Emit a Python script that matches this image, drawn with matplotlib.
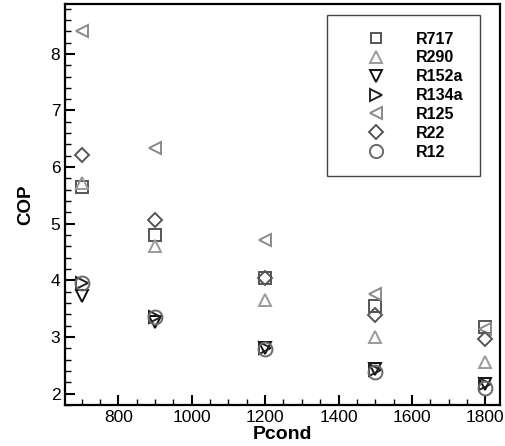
import numpy as np
import matplotlib.pyplot as plt
from matplotlib.ticker import MultipleLocator

plt.rcParams['font.family'] = ['Liberation Sans', 'DejaVu Sans']

pcond = [700, 900, 1200, 1500, 1800]
r717 = [5.65, 4.81, 4.05, 3.55, 3.17]
r290 = [5.72, 4.60, 3.65, 3.00, 2.56]
r152a = [3.72, 3.27, 2.80, 2.43, 2.17]
r134a = [3.95, 3.36, 2.80, 2.42, 2.17]
r125 = [8.40, 6.34, 4.71, 3.76, 3.15]
r22 = [6.21, 5.06, 4.04, 3.39, 2.97]
r12 = [3.95, 3.36, 2.78, 2.39, 2.10]

series = [
    ("R717", r717, 's', '#555555'),
    ("R290", r290, '^', '#9a9a9a'),
    ("R152a", r152a, 'v', '#111111'),
    ("R134a", r134a, '>', '#222222'),
    ("R125", r125, '<', '#8a8a8a'),
    ("R22", r22, 'D', '#555555'),
    ("R12", r12, 'o', '#6a6a6a'),
]
tamanos = {'s': 8, '^': 8.5, 'v': 8.5, '>': 8.5, '<': 8.5, 'D': 7.5, 'o': 10}

fig = plt.figure(figsize=(5.05, 4.46), dpi=100)
ax = fig.add_axes([0.129, 0.092, 0.861, 0.899])

for nombre, vals, mk, col in series:
    ax.plot(pcond, vals, linestyle='none', marker=mk, markersize=tamanos[mk],
            markerfacecolor='none', markeredgecolor=col, markeredgewidth=1.4,
            label=nombre)

ax.set_xlim(655, 1840)
ax.set_ylim(1.8, 8.88)
ax.xaxis.set_major_locator(MultipleLocator(200))
ax.xaxis.set_minor_locator(MultipleLocator(50))
ax.yaxis.set_major_locator(MultipleLocator(1))
ax.yaxis.set_minor_locator(MultipleLocator(0.2))
ax.tick_params(which='both', direction='in', top=False, right=False,
               labelsize=12.5, width=1.5)
ax.tick_params(which='major', length=7)
ax.tick_params(which='minor', length=4, width=1.0)
for sp in ax.spines.values():
    sp.set_linewidth(1.6)

ax.set_xlabel('Pcond', fontsize=14, fontweight='bold', labelpad=1)
ax.set_ylabel('COP', fontsize=13.5, fontweight='bold', labelpad=12)

leg = ax.legend(loc='upper left', bbox_to_anchor=(0.603, 0.973),
                fancybox=False, edgecolor='#444444', framealpha=1,
                prop={'weight': 'bold', 'size': 11.5}, handlelength=4.0,
                handletextpad=0.5, labelspacing=0.24, borderpad=1.05,
                borderaxespad=0, markerscale=0.95)
leg.get_frame().set_linewidth(1.0)

fig.savefig('out.png', dpi=100)
